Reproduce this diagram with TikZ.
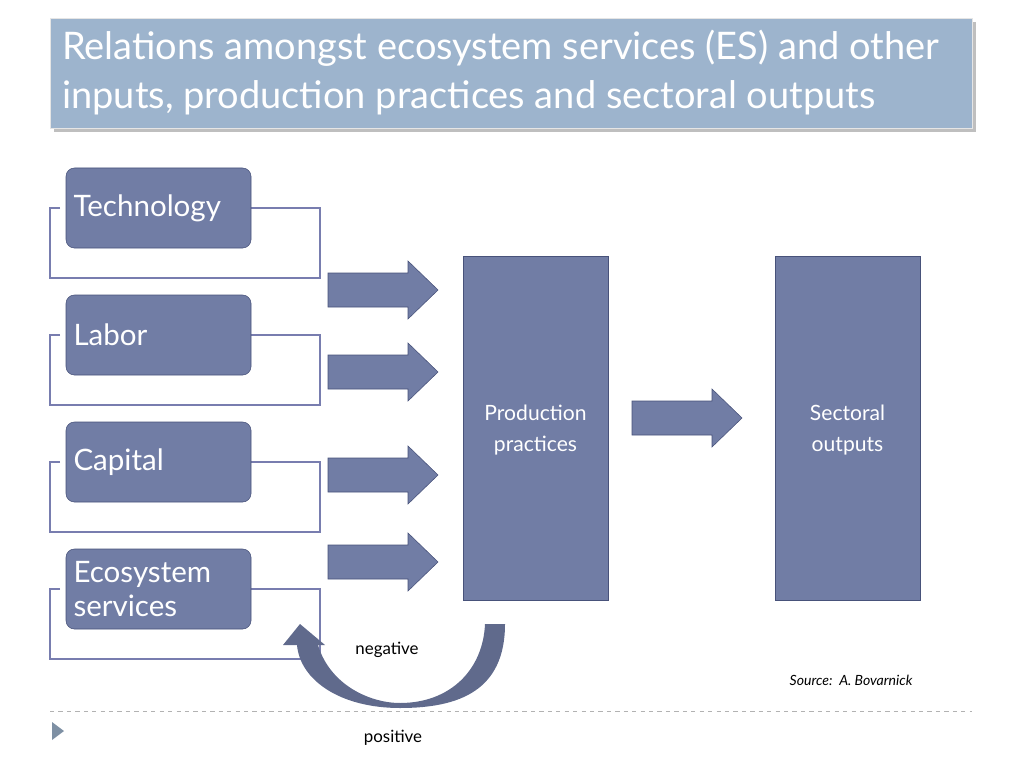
\documentclass[tikz,border=0pt]{standalone}
\usepackage{fontspec}
\setmainfont{Lato}
\usetikzlibrary{shadows}
\definecolor{titleblue}{RGB}{157,180,205}
\definecolor{boxfill}{RGB}{113,125,165}
\definecolor{boxline}{RGB}{72,82,122}
\definecolor{bracketline}{RGB}{120,125,175}
\tikzset{
  inbox/.style={draw=boxline,fill=boxfill,rounded corners=6pt,minimum width=185*0.025cm,minimum height=80*0.025cm,text=white,font=\fontsize{21}{24}\selectfont,align=left,text width=170*0.025cm,inner sep=3pt},
  bigbox/.style={draw=boxline,fill=boxfill,minimum width=145*0.025cm,minimum height=344*0.025cm,text=white,font=\fontsize{15}{22}\selectfont,align=center},
  bracket/.style={draw=bracketline,thick},
  blockarrow/.pic={\draw[boxline,fill=boxfill] (-55,-17) -- (25,-17) -- (25,-29) -- (55,0) -- (25,29) -- (25,17) -- (-55,17) -- cycle;}
}
\begin{document}
\begin{tikzpicture}[x=0.025cm,y=-0.025cm]
\useasboundingbox (0,0) rectangle (1024,768);
% title
\node[draw=white!80!gray,fill=titleblue,drop shadow,minimum width=922*0.025cm,minimum height=110*0.025cm,anchor=north west,inner sep=0pt] (title) at (50,18) {};
\node[anchor=north west,text=white,font=\fontsize{27}{35}\selectfont,align=left,inner sep=0pt] (titletext) at (62,30) {Relations amongst ecosystem services (ES) and other\\inputs, production practices and sectoral outputs};
% inputs
\foreach \y/\name/\lab in {208/tech/Technology,335/labor/Labor,462/capital/Capital,589/es/{Ecosystem\\services}}{
\draw[bracket] (60,\y) -- (50,\y) -- (50,\y+70) -- (320,\y+70) -- (320,\y) -- (251,\y);
\node[inbox] (\name) at (158.5,\y) {\lab};
}
\foreach \y in {290,372,475,562}
\pic at (383,\y) {blockarrow};
% production and outputs
\node[bigbox] (prod) at (535.5,428) {};
\node[text=white,font=\fontsize{15}{22}\selectfont,align=center] (prodtext) at (535.5,430) {Production\\practices};
\node[bigbox] (out) at (847.5,428) {};
\node[text=white,font=\fontsize{15}{22}\selectfont,align=center] (outtext) at (847.5,430) {Sectoral\\outputs};
\pic at (687,418) {blockarrow};
% feedback
\fill[boxfill!85!black] (505,624) .. controls (505,690) and (460,708) .. (400,708)
  .. controls (340,708) and (300,680) .. (297,645) -- (283,645) -- (300,624) -- (325,645) -- (318,645)
  .. controls (330,685) and (370,703) .. (400,703) .. controls (450,703) and (483,670) .. (485,624) -- cycle;
\node[font=\fontsize{12}{14}\selectfont] (neg) at (387,650) {negative};
\node[font=\fontsize{12}{14}\selectfont] (pos) at (393,738) {positive};
\node[font=\fontsize{10}{12}\selectfont\itshape] (src) at (851,680) {Source:\, A. Bovarnick};
% footer
\draw[gray!60,dashed] (50,711) -- (972,711);
\fill[titleblue!80!black] (52,722) -- (64,731) -- (52,740) -- cycle;
\end{tikzpicture}
\end{document}
